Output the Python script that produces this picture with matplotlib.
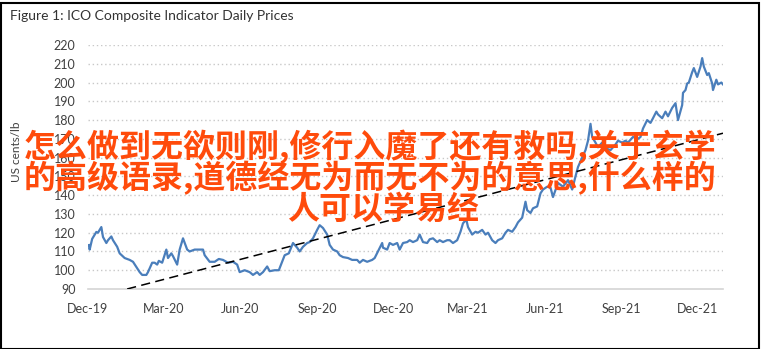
import matplotlib.pyplot as plt
import pandas as pd
from matplotlib.patches import Rectangle

# ICO composite indicator (days after 1 Dec 2019, US cents/lb)
days = [1, 2, 5, 10, 12, 16, 18, 22, 24, 28, 30, 35, 38, 44, 50, 54, 59, 62, 65, 70,
        72, 77, 80, 83, 85, 89, 94, 96, 100, 102, 107, 110, 114, 119, 122, 128, 134, 138, 140, 146,
        152, 157, 162, 168, 174, 179, 182, 188, 194, 198, 203, 206, 210, 215, 218, 224, 229, 233, 236, 241,
        246, 251, 254, 258, 263, 266, 270, 275, 278, 282, 287, 290, 294, 299, 302, 306, 312, 317, 323, 326,
        330, 335, 341, 344, 348, 353, 354, 359, 362, 366, 371, 374, 378, 383, 386, 390, 395, 398, 402, 407,
        410, 414, 419, 422, 426, 431, 434, 438, 443, 447, 450, 454, 456, 461, 465, 468, 473, 477, 480, 485,
        489, 492, 497, 501, 504, 509, 513, 516, 521, 525, 527, 531, 534, 539, 543, 546, 551, 555, 558, 564,
        570, 576, 581, 585, 588, 593, 597, 600, 603, 605, 609, 612, 617, 621, 627, 633, 636, 641, 645, 648,
        654, 660, 663, 666, 671, 675, 678, 682, 684, 689, 693, 696, 701, 705, 708, 713, 714, 717, 719, 721,
        725, 727, 731, 735, 737, 739, 743, 745, 749, 750, 754, 756, 760, 762]
price = [113.4, 111, 116.7, 120.4, 120, 123, 117.7, 114.5, 116, 118, 116, 112.5, 109, 106.5, 105.5, 104.5, 101, 99, 97.5, 97.5,
         99, 104, 104, 103, 105, 104, 111, 106.5, 109, 107.5, 103, 111, 117, 111, 110, 111, 111, 111, 108, 104.5,
         104.5, 106, 105.5, 104, 104.5, 103, 99, 100, 99, 97.5, 99, 97.5, 99, 102, 99.5, 100, 100, 104.5, 108, 109,
         114.5, 112, 110, 112.5, 114.5, 115, 117, 121.5, 124, 122.5, 119, 113.5, 111, 110, 108, 107, 106.5, 105.5, 105.5, 104,
         105.5, 104.5, 105.5, 106.5, 110, 114.5, 112, 111, 114.5, 113.5, 114.5, 111, 114.5, 115, 116, 115, 116, 119, 115, 114.5,
         116.5, 117, 115, 116, 115, 116, 116, 114.5, 116, 120.5, 125, 127, 123, 119, 120.5, 120, 121.5, 119, 120, 116,
         114.5, 116, 117, 120, 121.5, 120.5, 123, 125.5, 128, 136.5, 132, 130.5, 133, 134, 141, 143, 144.5, 144, 139, 146.5,
         144.5, 148, 143, 150, 155, 160, 164, 169, 178, 171, 168, 165.5, 168, 165, 164, 167, 169, 168, 169, 168,
         171, 170, 171, 175.5, 180, 178.5, 181, 184.5, 183, 181, 184.5, 182, 186.5, 189, 180, 188, 194.5, 196, 199.5, 200,
         205.5, 207.7, 203, 208.5, 213, 208.5, 204, 205, 199.5, 196, 201.5, 199, 200, 199]

trend_days = [47, 762]
trend_vals = [90, 173]

start = pd.Timestamp('2019-12-01')
dates = start + pd.to_timedelta(days, unit='D')
trend_dates = start + pd.to_timedelta(trend_days, unit='D')

tick_dates = pd.date_range('2019-12-01', '2021-12-01', freq='3MS')
tick_labels = ['Dec-19', 'Mar-20', 'Jun-20', 'Sep-20', 'Dec-20', 'Mar-21', 'Jun-21', 'Sep-21', 'Dec-21']
yticks = list(range(90, 221, 10))

overlay = ['怎么做到无欲则刚,修行入魔了还有救吗,关于玄学',
           '的高级语录,道德经无为而无不为的意思,什么样的',
           '人可以学易经']

W, H = 761, 349
fig = plt.figure(figsize=(W / 100, H / 100), dpi=100)
fig.patch.set_facecolor('white')
ax = fig.add_axes([88 / W, 1 - 289 / H, (723 - 88) / W, (289 - 45) / H])

ax.plot(dates, price, color='#4a7ebb', lw=1.6, zorder=3)
ax.plot(trend_dates, trend_vals, color='black', lw=1.1, dashes=(6, 3.5), zorder=4)

ax.set_xlim(start, pd.Timestamp('2022-01-01'))
ax.set_ylim(90, 220)
ax.set_yticks(yticks)
ax.set_xticks(tick_dates)
ax.set_xticklabels(tick_labels)
for y in yticks[1:]:
    ax.axhline(y, color='#c8c8c8', lw=1.0, ls=(0, (1, 2)), zorder=1)
for s in ['top', 'right', 'left']:
    ax.spines[s].set_visible(False)
ax.spines['bottom'].set_color('#d4d4d4')
ax.spines['bottom'].set_linewidth(1.2)
ax.tick_params(length=0, labelsize=9, colors='#404040', pad=9)
ax.tick_params(axis='x', pad=10)
for lab in ax.get_xticklabels() + ax.get_yticklabels():
    lab.set_family('Lato')

fig.text(10 / W, 1 - 16 / H, 'Figure 1: ICO Composite Indicator Daily Prices',
         fontsize=10, family='Lato', color='#333333', va='center', ha='left')
fig.text(16 / W, 1 - 152 / H, 'US cents/lb', rotation=90, fontsize=8.5, family='Lato',
         color='#404040', va='center', ha='center')

# orange overlay text
cjk = ['Noto Sans CJK SC', 'DejaVu Sans']
for txt, cx, cy in zip(overlay, [370, 370, 383], [147, 178, 210]):
    fig.text(cx / W, 1 - cy / H, txt, fontsize=23, family=cjk, weight='bold',
             color='#ff4b0b', ha='center', va='center', zorder=10)

fig.patches.append(Rectangle((0.5 / W, 0.5 / H), 1 - 3 / W, 1 - 3 / H, transform=fig.transFigure,
                             fill=False, edgecolor='black', lw=1.5))

fig.savefig('out.png', dpi=100)
